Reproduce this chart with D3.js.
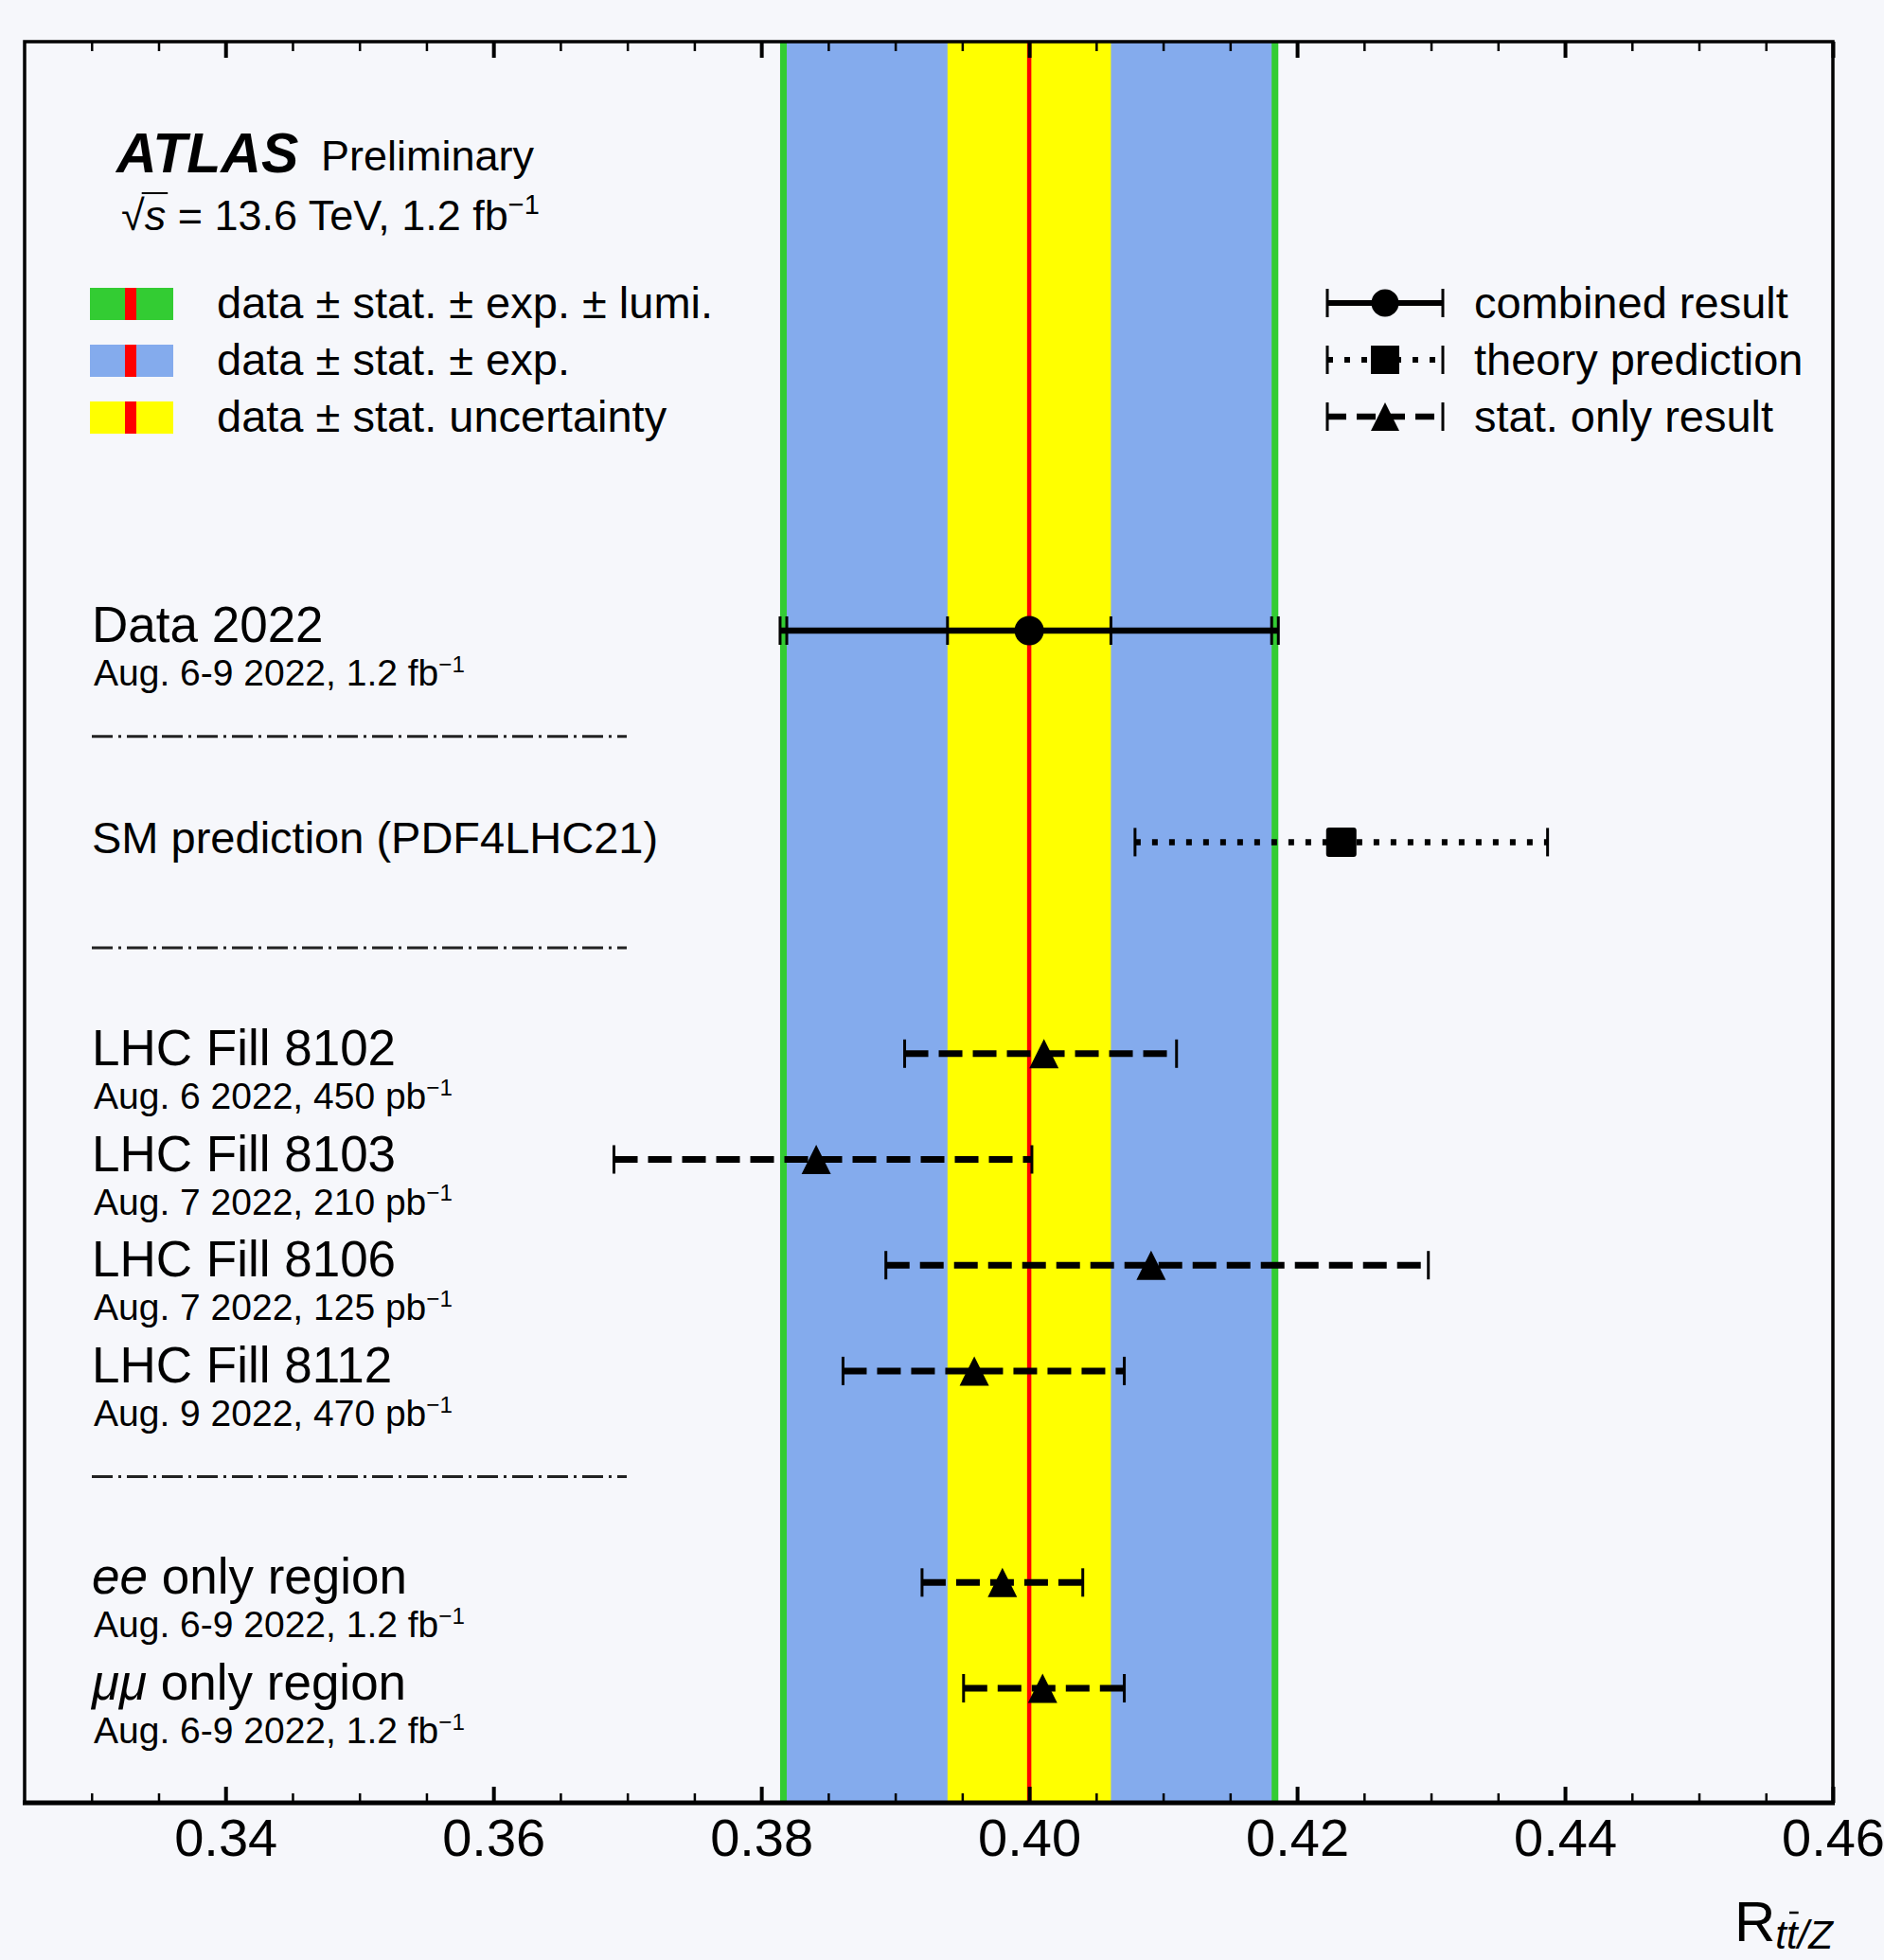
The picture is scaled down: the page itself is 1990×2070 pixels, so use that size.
<!DOCTYPE html>
<html>
<head>
<meta charset="utf-8">
<script src="https://cdn.jsdelivr.net/npm/d3@7"></script>
<style>
    body { margin: 0; background: #f6f7fb; }
    svg { display: block; font-family: "Liberation Sans", Arial, Helvetica, sans-serif; }
</style>
</head>
<body>
<div id="chart"></div>
<script>
// combined measurement: central value and the three nested uncertainties
const combinedValue = 0.400;
const statErr = 0.0061;
const statExpErr = 0.0181;
const totalErr = 0.0186;

// SM prediction
const theoryValue = 0.4233;
const theoryLow = 0.4079;
const theoryHigh = 0.4387;

// stat. only results
const statOnlyRows = ["fill8102", "fill8103", "fill8106", "fill8112", "ee", "mumu"];
const statOnlyValues = [0.4011, 0.3841, 0.4091, 0.3959, 0.3980, 0.4010];
const statOnlyLow = [0.3907, 0.3690, 0.3893, 0.3861, 0.3920, 0.3951];
const statOnlyHigh = [0.4110, 0.4002, 0.4298, 0.4071, 0.4040, 0.4071];

// rows from top to bottom, separators included
const slots = ["combined", "sep1", "theory", "sep2", "fill8102", "fill8103", "fill8106", "fill8112", "sep3", "ee", "mumu"];
const separators = ["sep1", "sep2", "sep3"];

const labelRows = ["combined", "theory", "fill8102", "fill8103", "fill8106", "fill8112", "ee", "mumu"];
const labelTitles = ["Data 2022", "SM prediction (PDF4LHC21)", "LHC Fill 8102", "LHC Fill 8103",
    "LHC Fill 8106", "LHC Fill 8112", "*ee* only region", "*μμ* only region"];
const labelSubtitles = ["Aug. 6-9 2022, 1.2 fb^−1", "", "Aug. 6 2022, 450 pb^−1", "Aug. 7 2022, 210 pb^−1",
    "Aug. 7 2022, 125 pb^−1", "Aug. 9 2022, 470 pb^−1", "Aug. 6-9 2022, 1.2 fb^−1", "Aug. 6-9 2022, 1.2 fb^−1"];

const bandLabels = ["data ± stat. ± exp. ± lumi.", "data ± stat. ± exp.", "data ± stat. uncertainty"];
const markerLabels = ["combined result", "theory prediction", "stat. only result"];

const majorTicks = [0.34, 0.36, 0.38, 0.40, 0.42, 0.44, 0.46];

const colors = {
    green: "#33cc33",
    blue: "#84abed",
    yellow: "#ffff00",
    red: "#ff0000",
    ink: "#000000",
};

const width = 1990;
const height = 2070;
const frame = {left: 26, right: 1936, top: 44, bottom: 1904};

const svg = d3.select("#chart")
    .append("svg")
    .attr("width", width)
    .attr("height", height)
    .attr("viewBox", [0, 0, width, height]);

svg.append("rect")
    .attr("width", width)
    .attr("height", height)
    .attr("fill", "#f6f7fb");

const xScale = d3.scaleLinear()
    .domain([0.325, 0.46])
    .range([frame.left, frame.right]);
const yScale = d3.scalePoint()
    .domain(slots)
    .range([666, 1783]);

// triangle centred on its bounding box, like the ROOT marker
const triangleUp = {
    draw(ctx, size) {
        const h = Math.sqrt(size);
        ctx.moveTo(0, -h / 2);
        ctx.lineTo(h / 2, h / 2);
        ctx.lineTo(-h / 2, h / 2);
        ctx.closePath();
    }
};

function richText(sel, spec, size) {
    // "*x*" -> italic, "^x" -> superscript at the end
    const [main, sup] = spec.split("^");
    main.split("*").forEach((part, i) => {
        if (part === "") return;
        const ts = sel.append("tspan").text(part);
        if (i % 2 === 1) ts.attr("font-style", "italic");
    });
    if (sup) {
        sel.append("tspan")
            .attr("font-size", size * 0.62)
            .attr("dy", -size * 0.36)
            .text(sup);
    }
}

// Uncertainty bands
const bands = svg.append("g");
bands.append("rect")
    .attr("x", xScale(combinedValue - totalErr))
    .attr("width", xScale(combinedValue + totalErr) - xScale(combinedValue - totalErr))
    .attr("y", frame.top)
    .attr("height", frame.bottom - frame.top)
    .attr("fill", colors.green);
bands.append("rect")
    .attr("x", xScale(combinedValue - statExpErr))
    .attr("width", xScale(combinedValue + statExpErr) - xScale(combinedValue - statExpErr))
    .attr("y", frame.top)
    .attr("height", frame.bottom - frame.top)
    .attr("fill", colors.blue);
bands.append("rect")
    .attr("x", xScale(combinedValue - statErr))
    .attr("width", xScale(combinedValue + statErr) - xScale(combinedValue - statErr))
    .attr("y", frame.top)
    .attr("height", frame.bottom - frame.top)
    .attr("fill", colors.yellow);
bands.append("line")
    .attr("x1", xScale(combinedValue))
    .attr("x2", xScale(combinedValue))
    .attr("y1", frame.top)
    .attr("y2", frame.bottom)
    .attr("stroke", colors.red)
    .attr("stroke-width", 4.5);

// Axes (ticks inward on top and bottom)
const minorTicks = d3.range(0.33, 0.4601, 0.005)
    .filter((t) => !majorTicks.some((m) => Math.abs(m - t) < 1e-6));

const bottomMajor = svg.append("g")
    .attr("transform", `translate(0,${frame.bottom})`)
    .call(d3.axisBottom(xScale).tickValues(majorTicks).tickSize(-17).tickPadding(16)
        .tickFormat(d3.format(".2f")));
bottomMajor.selectAll("line").attr("stroke-width", 4);
bottomMajor.selectAll("text").attr("font-size", 56).attr("fill", colors.ink)
    .attr("font-family", "Liberation Sans, Arial, sans-serif");

const bottomMinor = svg.append("g")
    .attr("transform", `translate(0,${frame.bottom})`)
    .call(d3.axisBottom(xScale).tickValues(minorTicks).tickSize(-10).tickFormat(""));
bottomMinor.selectAll("line").attr("stroke-width", 2.5);

const topMajor = svg.append("g")
    .attr("transform", `translate(0,${frame.top})`)
    .call(d3.axisTop(xScale).tickValues(majorTicks).tickSize(-17).tickFormat(""));
topMajor.selectAll("line").attr("stroke-width", 4);

const topMinor = svg.append("g")
    .attr("transform", `translate(0,${frame.top})`)
    .call(d3.axisTop(xScale).tickValues(minorTicks).tickSize(-10).tickFormat(""));
topMinor.selectAll("line").attr("stroke-width", 2.5);

svg.selectAll(".domain").remove();

// Frame
svg.append("rect")
    .attr("x", frame.left)
    .attr("y", frame.top)
    .attr("width", frame.right - frame.left)
    .attr("height", frame.bottom - frame.top)
    .attr("fill", "none")
    .attr("stroke", colors.ink)
    .attr("stroke-width", 3.5);
svg.append("line")
    .attr("x1", frame.left - 2).attr("x2", frame.right + 2)
    .attr("y1", frame.bottom).attr("y2", frame.bottom)
    .attr("stroke", colors.ink)
    .attr("stroke-width", 5);

// Separators
svg.append("g")
    .selectAll("line")
    .data(separators)
    .join("line")
    .attr("x1", 97)
    .attr("x2", 662)
    .attr("y1", (d) => yScale(d))
    .attr("y2", (d) => yScale(d))
    .attr("stroke", "#222")
    .attr("stroke-width", 3)
    .attr("stroke-dasharray", "22 6 3 6");

// Row labels
const labels = svg.append("g").attr("fill", colors.ink);
labelRows.forEach((row, i) => {
    const big = i === 1 ? 47 : 53;
    const t = labels.append("text")
        .attr("x", 97)
        .attr("y", yScale(row) + 12)
        .attr("font-size", big);
    richText(t, labelTitles[i], big);
    if (labelSubtitles[i]) {
        const s = labels.append("text")
            .attr("x", 99)
            .attr("y", yScale(row) + 58)
            .attr("font-size", 39);
        richText(s, labelSubtitles[i], 39);
    }
});

// Error bar helper
function errorBar(g, y, lo, hi, style) {
    g.append("line")
        .attr("x1", lo).attr("x2", hi)
        .attr("y1", y).attr("y2", y)
        .attr("stroke", colors.ink)
        .attr("stroke-width", style.width)
        .attr("stroke-dasharray", style.dash || null);
    [lo, hi].forEach((cx) => {
        g.append("line")
            .attr("x1", cx).attr("x2", cx)
            .attr("y1", y - 15).attr("y2", y + 15)
            .attr("stroke", colors.ink)
            .attr("stroke-width", 3);
    });
}

const marks = svg.append("g");

// combined result, caps at each band edge
const yc = yScale("combined");
errorBar(marks, yc, xScale(combinedValue - totalErr), xScale(combinedValue + totalErr), {width: 6.5});
[combinedValue - statExpErr, combinedValue + statExpErr, combinedValue - statErr, combinedValue + statErr]
    .forEach((v) => {
        marks.append("line")
            .attr("x1", xScale(v)).attr("x2", xScale(v))
            .attr("y1", yc - 15).attr("y2", yc + 15)
            .attr("stroke", colors.ink)
            .attr("stroke-width", 3);
    });
marks.append("path")
    .attr("transform", `translate(${xScale(combinedValue)},${yc})`)
    .attr("d", d3.symbol(d3.symbolCircle, Math.PI * 15.5 * 15.5)())
    .attr("fill", colors.ink);

// theory prediction
const yt = yScale("theory");
errorBar(marks, yt, xScale(theoryLow), xScale(theoryHigh), {width: 6.5, dash: "6 12"});
marks.append("rect")
    .attr("x", xScale(theoryValue) - 16)
    .attr("y", yt - 15.5)
    .attr("width", 32)
    .attr("height", 31)
    .attr("rx", 3)
    .attr("fill", colors.ink);

// stat. only results
statOnlyRows.forEach((row, i) => {
    const yy = yScale(row);
    errorBar(marks, yy, xScale(statOnlyLow[i]), xScale(statOnlyHigh[i]), {width: 7, dash: "25 11"});
    marks.append("path")
        .attr("transform", `translate(${xScale(statOnlyValues[i])},${yy})`)
        .attr("d", d3.symbol(triangleUp, 31 * 31)())
        .attr("fill", colors.ink);
});

// Header
const header = svg.append("g").attr("fill", colors.ink);
header.append("text")
    .attr("x", 123).attr("y", 182)
    .attr("font-size", 59)
    .attr("font-weight", "bold")
    .attr("font-style", "italic")
    .text("ATLAS");
header.append("text")
    .attr("x", 339).attr("y", 180)
    .attr("font-size", 45)
    .text("Preliminary");

const energy = header.append("text")
    .attr("x", 128).attr("y", 243)
    .attr("font-size", 45);
energy.append("tspan").text("√");
energy.append("tspan").attr("font-style", "italic").text("s");
energy.append("tspan").text(" = 13.6 TeV, 1.2 fb");
energy.append("tspan").attr("font-size", 29).attr("dy", -17).text("−1");
{
    const root = energy.node().getExtentOfChar(0);
    const s = energy.node().getExtentOfChar(1);
    header.append("line")
        .attr("x1", root.x + root.width - 3)
        .attr("x2", s.x + s.width + 2)
        .attr("y1", 204).attr("y2", 204)
        .attr("stroke", colors.ink)
        .attr("stroke-width", 2);
}

// Band legend
const bandColors = [colors.green, colors.blue, colors.yellow];
const bandLegend = svg.append("g");
bandLabels.forEach((label, i) => {
    const cy = 321 + i * 60;
    bandLegend.append("rect")
        .attr("x", 95).attr("y", cy - 17)
        .attr("width", 88).attr("height", 34)
        .attr("fill", bandColors[i]);
    bandLegend.append("rect")
        .attr("x", 132).attr("y", cy - 17)
        .attr("width", 12).attr("height", 34)
        .attr("fill", colors.red);
    bandLegend.append("text")
        .attr("x", 229).attr("y", cy + 15)
        .attr("font-size", 47)
        .attr("fill", colors.ink)
        .text(label);
});

// Marker legend
const markerLegend = svg.append("g");
const legendStyles = [{width: 6}, {width: 6, dash: "6 12"}, {width: 6.5, dash: "20 11"}];
markerLabels.forEach((label, i) => {
    const cy = 320 + i * 60;
    errorBar(markerLegend, cy, 1402, 1524, legendStyles[i]);
    const sym = markerLegend.append("path")
        .attr("transform", `translate(1463,${cy})`)
        .attr("fill", colors.ink);
    if (i === 0) sym.attr("d", d3.symbol(d3.symbolCircle, Math.PI * 14.5 * 14.5)());
    if (i === 1) sym.attr("d", d3.symbol(d3.symbolSquare, 30 * 30)());
    if (i === 2) sym.attr("d", d3.symbol(triangleUp, 30 * 30)());
    markerLegend.append("text")
        .attr("x", 1557).attr("y", cy + 16)
        .attr("font-size", 47)
        .attr("fill", colors.ink)
        .text(label);
});

// Axis title R_{tt̄/Z}
const title = svg.append("text")
    .attr("x", frame.right)
    .attr("y", 2050)
    .attr("text-anchor", "end")
    .attr("font-size", 60)
    .attr("fill", colors.ink);
title.append("tspan").text("R");
title.append("tspan").attr("font-size", 42).attr("font-style", "italic").attr("dy", 8).text("tt/Z");
{
    const t2 = title.node().getExtentOfChar(2);
    svg.append("line")
        .attr("x1", t2.x + 3).attr("x2", t2.x + t2.width + 1)
        .attr("y1", 2020).attr("y2", 2020)
        .attr("stroke", colors.ink)
        .attr("stroke-width", 2.5);
}
</script>
</body>
</html>
